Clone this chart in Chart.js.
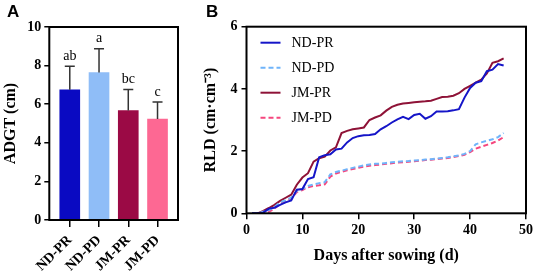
<!DOCTYPE html>
<html>
<head>
<meta charset="utf-8">
<script src="https://cdn.jsdelivr.net/npm/chart.js@4.4.1/dist/chart.umd.min.js"></script>
<style>
  html, body { margin: 0; padding: 0; background: #fff; }
  #wrap { position: relative; width: 536px; height: 276px; }
  #boxA { position: absolute; left: 0; top: 0; width: 200px; height: 276px; }
  #boxB { position: absolute; left: 200px; top: 0; width: 336px; height: 276px; }
  .tag { position: absolute; font-family: "Liberation Sans", Arial, sans-serif; font-weight: bold; font-size: 17px; color: #000; }
</style>
</head>
<body>
<div id="wrap">
  <div id="boxA"><canvas id="chartA" width="200" height="276"></canvas></div>
  <div id="boxB"><canvas id="chartB" width="336" height="276"></canvas></div>
  <div class="tag" style="left:7px;top:2px;">A</div>
  <div class="tag" style="left:206px;top:2px;">B</div>
</div>
<script>
// ---- panel A data ----
var groups = ["ND-PR", "ND-PD", "JM-PR", "JM-PD"];
var adgtMean = [6.75, 7.64, 5.67, 5.23];
var adgtSD = [1.21, 1.23, 1.09, 0.89];
var adgtLetters = ["ab", "a", "bc", "c"];
var barColors = ["#0a0ac2", "#8fbdf7", "#9b0a45", "#fd6893"];

// ---- panel B data ----
var days = [1, 2, 3, 4, 5, 6, 7, 8, 9, 10, 11, 12, 13, 14, 15, 16, 17, 18, 19, 20, 21, 22, 23,
            24, 25, 26, 27, 28, 29, 30, 31, 32, 33, 34, 35, 36, 37, 38, 39, 40, 41, 42, 43, 44, 45, 46];
var ndPR = [0, 0, 0.02, 0.15, 0.18, 0.27, 0.35, 0.41, 0.76, 0.78, 1.10, 1.16, 1.80, 1.87, 1.90, 2.05,
            2.08, 2.28, 2.42, 2.48, 2.51, 2.52, 2.55, 2.70, 2.80, 2.92, 3.02, 3.10, 3.03, 3.16, 3.20, 3.04,
            3.12, 3.27, 3.27, 3.28, 3.31, 3.35, 3.72, 4.03, 4.20, 4.25, 4.57, 4.62, 4.80, 4.75];
var ndPD = [0, 0, 0.05, 0.10, 0.20, 0.35, 0.42, 0.50, 0.72, 0.78, 0.88, 0.93, 0.97, 1.00, 1.25, 1.33,
            1.37, 1.42, 1.46, 1.50, 1.54, 1.57, 1.59, 1.60, 1.62, 1.64, 1.66, 1.67, 1.68, 1.70, 1.71, 1.73,
            1.74, 1.76, 1.78, 1.80, 1.83, 1.86, 1.91, 2.00, 2.22, 2.28, 2.33, 2.38, 2.45, 2.58];
var jmPR = [0, 0, 0.08, 0.17, 0.27, 0.40, 0.50, 0.60, 0.92, 1.15, 1.29, 1.66, 1.77, 1.82, 2.02, 2.12,
            2.58, 2.65, 2.70, 2.73, 2.76, 3.00, 3.08, 3.15, 3.30, 3.42, 3.49, 3.53, 3.55, 3.57, 3.59, 3.60,
            3.62, 3.68, 3.74, 3.75, 3.78, 3.86, 4.00, 4.10, 4.20, 4.30, 4.50, 4.84, 4.89, 4.98];
var jmPD = [0, 0, 0, 0.05, 0.15, 0.30, 0.40, 0.47, 0.68, 0.75, 0.84, 0.88, 0.90, 0.93, 1.18, 1.28,
            1.33, 1.38, 1.42, 1.46, 1.50, 1.53, 1.55, 1.57, 1.59, 1.61, 1.63, 1.64, 1.66, 1.67, 1.69, 1.71,
            1.72, 1.74, 1.76, 1.78, 1.81, 1.84, 1.88, 1.97, 2.08, 2.14, 2.20, 2.26, 2.34, 2.45];

var serif = "'Liberation Serif', 'Times New Roman', serif";

function pts(ys) {
    var out = [];
    for (var i = 0; i < days.length; i++) {
        out.push({ x: days[i], y: ys[i] });
    }
    return out;
}

// box round the plot area
var framePlugin = {
    id: "frame",
    afterDraw: function (chart) {
        var a = chart.chartArea;
        var ctx = chart.ctx;
        ctx.save();
        ctx.strokeStyle = "#000";
        ctx.lineWidth = 2;
        ctx.strokeRect(a.left, a.top, a.right - a.left, a.bottom - a.top);
        ctx.restore();
    }
};

// SD bars + letters on panel A
var errPlugin = {
    id: "errbars",
    afterDatasetsDraw: function (chart) {
        var ctx = chart.ctx;
        var ys = chart.scales.y;
        var meta = chart.getDatasetMeta(0);
        ctx.save();
        ctx.strokeStyle = "#333";
        ctx.lineWidth = 1.5;
        ctx.fillStyle = "#000";
        ctx.font = "14px " + serif;
        ctx.textAlign = "center";
        ctx.textBaseline = "bottom";
        meta.data.forEach(function (bar, i) {
            var top = ys.getPixelForValue(adgtMean[i] + adgtSD[i]);
            ctx.beginPath();
            ctx.moveTo(bar.x, bar.y);
            ctx.lineTo(bar.x, top);
            ctx.moveTo(bar.x - 5, top);
            ctx.lineTo(bar.x + 5, top);
            ctx.stroke();
            ctx.fillText(adgtLetters[i], bar.x, top - 3);
        });
        ctx.restore();
    }
};

// legend inside panel B
var legendPlugin = {
    id: "innerLegend",
    afterDraw: function (chart) {
        var ctx = chart.ctx;
        var a = chart.chartArea;
        ctx.save();
        ctx.font = "14px " + serif;
        ctx.textBaseline = "middle";
        ctx.fillStyle = "#000";
        chart.data.datasets.forEach(function (ds, i) {
            var y = a.top + 16 + i * 25;
            ctx.strokeStyle = ds.borderColor;
            ctx.lineWidth = 2;
            ctx.setLineDash(ds.borderDash || []);
            ctx.beginPath();
            ctx.moveTo(a.left + 14, y);
            ctx.lineTo(a.left + 34, y);
            ctx.stroke();
            ctx.setLineDash([]);
            ctx.fillText(ds.label, a.left + 45, y + 1);
        });
        ctx.restore();
    }
};

var tickFont = { family: serif, size: 14, weight: "bold" };
var titleFont = { family: serif, size: 16, weight: "bold" };

new Chart(document.getElementById("chartA"), {
    type: "bar",
    data: {
        datasets: [{
            data: groups.map(function (g, i) { return { x: i + 1, y: adgtMean[i] }; }),
            backgroundColor: barColors,
            barThickness: 20
        }]
    },
    options: {
        responsive: false,
        animation: false,
        layout: { padding: { top: 27, right: 22, bottom: 0, left: 0 } },
        plugins: { legend: { display: false }, tooltip: { enabled: false } },
        scales: {
            x: {
                type: "linear",
                offset: false,
                min: 0.3,
                max: 4.7,
                afterBuildTicks: function (s) {
                    s.ticks = groups.map(function (g, i) { return { value: i + 1 }; });
                },
                afterFit: function (s) { s.height = 56; },
                ticks: {
                    autoSkip: false,
                    minRotation: 45,
                    maxRotation: 45,
                    color: "#000",
                    font: tickFont,
                    padding: 5,
                    callback: function (v) { return groups[v - 1]; }
                },
                grid: { offset: false, drawOnChartArea: false, drawTicks: true, tickLength: 7, color: "#000", lineWidth: 1.5 },
                border: { display: false }
            },
            y: {
                min: 0,
                max: 10,
                afterFit: function (s) { s.width = 49.3; },
                ticks: { stepSize: 2, color: "#000", font: tickFont, padding: 3 },
                grid: { drawOnChartArea: false, drawTicks: true, tickLength: 5, color: "#000", lineWidth: 1.5 },
                border: { display: false },
                title: { display: true, text: "ADGT (cm)", color: "#000", font: titleFont, padding: 1 }
            }
        }
    },
    plugins: [errPlugin, framePlugin]
});

new Chart(document.getElementById("chartB"), {
    type: "line",
    data: {
        datasets: [
            { label: "ND-PR", data: pts(ndPR), borderColor: "#1515c8", borderWidth: 2 },
            { label: "ND-PD", data: pts(ndPD), borderColor: "#6fb4fa", borderWidth: 2, borderDash: [5, 3] },
            { label: "JM-PR", data: pts(jmPR), borderColor: "#8e1237", borderWidth: 2 },
            { label: "JM-PD", data: pts(jmPD), borderColor: "#f5467e", borderWidth: 2, borderDash: [5, 3] }
        ]
    },
    options: {
        responsive: false,
        animation: false,
        layout: { padding: { top: 26.7, right: 8, bottom: 9, left: 0 } },
        elements: { point: { radius: 0 }, line: { tension: 0 } },
        plugins: { legend: { display: false }, tooltip: { enabled: false } },
        scales: {
            x: {
                type: "linear",
                min: 0,
                max: 50,
                afterFit: function (s) { s.height = 53.7; },
                ticks: { stepSize: 10, color: "#000", font: tickFont, padding: 3, maxRotation: 0 },
                grid: { drawOnChartArea: false, drawTicks: true, tickLength: 6, color: "#000", lineWidth: 1.5 },
                border: { display: false },
                title: { display: true, text: "Days after sowing (d)", color: "#000", font: titleFont, padding: 2 }
            },
            y: {
                min: 0,
                max: 6,
                afterFit: function (s) { s.width = 46.5; },
                ticks: { stepSize: 2, color: "#000", font: tickFont, padding: 4 },
                grid: { drawOnChartArea: false, drawTicks: true, tickLength: 5, color: "#000", lineWidth: 1.5 },
                border: { display: false },
                title: { display: true, text: "RLD (cm·cm⁻³)", color: "#000", font: titleFont, padding: 1 }
            }
        }
    },
    plugins: [legendPlugin, framePlugin]
});
</script>
</body>
</html>
